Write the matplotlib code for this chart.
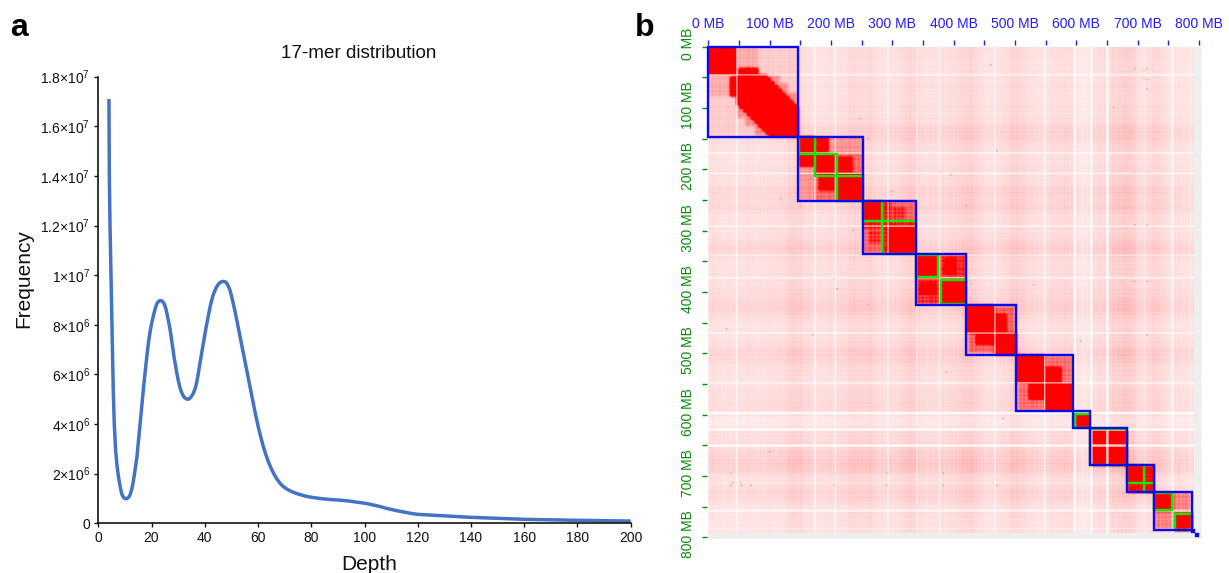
import numpy as np
import matplotlib
matplotlib.use("Agg")
import matplotlib.pyplot as plt
from matplotlib.colors import LinearSegmentedColormap
from matplotlib.patches import Rectangle
from matplotlib.transforms import ScaledTranslation

plt.rcParams['font.family'] = ['Liberation Sans', 'DejaVu Sans']
plt.rcParams['mathtext.fontset'] = 'custom'
plt.rcParams['mathtext.rm'] = 'Liberation Sans'
plt.rcParams['mathtext.default'] = 'regular'

# ---------- panel a data ----------
depth = [4.0, 4.15, 4.4, 4.65, 4.9, 5.15, 5.4, 5.65, 6, 6.5, 7, 7.5, 8, 8.5, 9, 9.5, 10, 10.5, 11, 11.5, 12, 12.5, 13,
         13.5, 14, 14.5, 15, 15.5, 16, 16.5, 17, 17.5, 18, 18.5, 19, 19.5, 20, 20.5, 21, 21.5, 22, 22.5, 23, 23.5,
         24, 24.5, 25, 25.5, 26, 26.5, 27, 27.5, 28, 28.5, 29, 29.5, 30, 30.5, 31, 31.5, 32, 32.5, 33, 33.5, 34,
         34.5, 35, 35.5, 36, 36.5, 37, 37.5, 38, 38.5, 39, 39.5, 40, 40.5, 41, 41.5, 42, 42.5, 43, 43.5, 44, 44.5,
         45, 45.5, 46, 46.5, 47, 47.5, 48, 48.5, 49, 49.5, 50, 50.5, 51, 51.5, 52, 53, 54, 55, 56, 57, 58, 59, 60,
         61, 62, 63, 64, 65, 66, 67, 68, 69, 70, 71, 72, 74, 76, 78, 80, 82, 84, 86, 88, 90, 92, 94, 96, 98, 100,
         102, 104, 106, 108, 110, 112, 114, 116, 118, 120, 125, 130, 135, 140, 150, 160, 170, 180, 190, 200]
freq_m = [17.1, 14.0, 12.0, 10.6, 9.3, 7.92, 6.55, 5.24, 4.0, 2.95, 2.35, 1.93, 1.6, 1.33, 1.13, 1.04, 1.0, .99, 1.01,
          1.06, 1.17, 1.34, 1.6, 1.93, 2.3, 2.66, 3.2, 3.78, 4.35, 4.92, 5.48, 6.0, 6.5, 6.98, 7.4, 7.75, 8.04, 8.28,
          8.5, 8.7, 8.85, 8.93, 8.97, 8.98, 8.95, 8.89, 8.78, 8.6, 8.35, 8.08, 7.79, 7.43, 7.05, 6.67, 6.35, 6.05,
          5.78, 5.54, 5.36, 5.22, 5.12, 5.06, 5.02, 5.0, 5.01, 5.05, 5.12, 5.2, 5.32, 5.47, 5.7, 6.0, 6.33, 6.65,
          6.97, 7.28, 7.6, 7.9, 8.18, 8.46, 8.73, 8.95, 9.15, 9.3, 9.43, 9.54, 9.62, 9.68, 9.72, 9.74, 9.75, 9.74,
          9.71, 9.63, 9.52, 9.38, 9.18, 8.95, 8.72, 8.47, 8.2, 7.65, 7.12, 6.58, 6.04, 5.5, 4.95, 4.42, 3.93, 3.49,
          3.09, 2.75, 2.45, 2.2, 1.98, 1.8, 1.65, 1.53, 1.44, 1.37, 1.31, 1.22, 1.15, 1.09, 1.05, 1.02, .99, .97,
          .95, .94, .92, .9, .87, .84, .81, .77, .72, .67, .61, .56, .51, .47, .43, .39, .36, .33, .3, .27, .24,
          .2, .16, .14, .12, .105, .09]
x_ticks = list(range(0, 201, 20))
y_ticks = [0, 2e6, 4e6, 6e6, 8e6, 1e7, 1.2e7, 1.4e7, 1.6e7, 1.8e7]
y_tick_labels = ['0', '2×10$^{6}$', '4×10$^{6}$', '6×10$^{6}$', '8×10$^{6}$', '1×10$^{7}$',
                 '1.2×10$^{7}$', '1.4×10$^{7}$', '1.6×10$^{7}$', '1.8×10$^{7}$']

# ---------- panel b data (MB) ----------
chrom_bounds = [(0, 146.7), (146.7, 252), (252, 338.4), (338.4, 420.5), (420.5, 502.4), (502.4, 594.5),
                (594.5, 622), (622, 682.4), (682.4, 726.5), (726.5, 788.5), (788.5, 791), (795, 797.5)]
scaffold_bounds = [(147.5, 174.5), (174.5, 210.5), (210.5, 252), (252, 283.5), (283.5, 338),
                   (339, 375), (380, 420), (598, 622), (622.5, 682), (682.5, 711), (711, 726),
                   (727, 756), (761, 788)]
# background contact level along the genome, one value each 12.5 MB
profile = [.9, .85, .8, .75, .8, .85, .8, .8, .85, .85, .95, 1.2, 1.2, .9, .85, .85, .9, .9, 1.0, 1.2, 1.1, 1.2, .9,
           .9, .85, 1.0, 1.3, 1.2, .9, .9, .9, .95, 1.0, 1.2, 1.35, 1.1, .85, .8, .9, 1.05, 1.3, 1.15, .9, .85, .85,
           .95, 1.0, 1.1, .75, .55, .9, 1.0, 1.05, 1.25, 1.5, 1.5, .9, .95, 1.15, 1.1, .75, .85, .8, .8, .7]
ripple = [1.14, .86, 1.2, .82, 1.06, .88, 1.17, .84, 1.0, .9, 1.12]
# (centre MB, half width MB, fraction removed)
stripes = [(47, 1.2, .8), (174, 1.2, .8), (207, 1.2, .85), (293, 1.2, .8), (340, .8, .5), (377, 1.3, .85),
           (467, 1.2, .8), (548, 1.3, .85), (597, 1.6, .85), (624, 1.5, .85), (650, 1.5, .85), (711, .8, .4),
           (756, 2, .6), (785, .8, .4)]
# enriched contact rectangles (x0, x1, y0, y1, level), mirrored about the diagonal
contact_boxes = [
    # chromosome 1
    (0, 146.7, 0, 146.7, .2), (0, 45, 50, 82, .33), (47, 117, 47, 117, .45), (60, 130, 60, 130, .45),
    (76, 146.7, 76, 146.7, .45), (36, 46, 50, 82, 1.5), (0, 47, 0, 47, 1.5),
    (46, 96, 46, 96, 1.5), (52, 102, 52, 102, 1.5), (58, 108, 58, 108, 1.5), (64, 114, 64, 114, 1.5),
    (70, 120, 70, 120, 1.5), (76, 126, 76, 126, 1.5), (82, 132, 82, 132, 1.5), (88, 138, 88, 138, 1.5),
    (94, 144, 94, 144, 1.5), (100, 148, 100, 148, 1.5),
    # chromosome 2
    (147, 252, 147, 252, .32), (175, 252, 147, 175, .42), (175, 208, 208, 252, .6),
    (147, 175, 147, 175, 1.5), (175, 209, 175, 209, 1.5), (208, 252, 208, 252, 1.5),
    (177, 196, 149, 172, 1.4), (210, 234, 181, 205, 1.3), (180, 206, 210, 236, 1.0),
    # chromosome 3
    (252, 338, 252, 338, .42), (252, 283, 296, 338, .6), (252, 338, 284, 297, .95),
    (252, 283, 252, 283, 1.5), (295, 338, 295, 338, 1.5), (262, 282, 300, 322, .85),
    # chromosome 4
    (339, 420, 339, 420, .68), (339, 375, 381, 420, .85), (345, 372, 384, 404, 1.2),
    (339, 376, 339, 376, 1.5), (380, 420, 380, 420, 1.5),
    # chromosome 5
    (420.5, 502, 420.5, 502, .42), (468, 497, 425, 464, .62), (425, 464, 468, 497, .62),
    (466, 484, 436, 468, 1.4), (436, 468, 466, 486, 1.4), (421, 467, 421, 467, 1.5), (466, 503, 466, 503, 1.5),
    # chromosome 6
    (502.5, 594, 502.5, 594, .42), (552, 592, 505, 545, .58), (505, 545, 552, 592, .58),
    (548, 575, 522, 550, 1.4), (522, 550, 548, 575, 1.4),
    (502, 549, 502, 549, 1.5), (548, 595, 548, 595, 1.5),
    # small chromosomes
    (596, 622, 596, 622, .6), (600, 623, 600, 623, 1.5),
    (622, 683, 622, 683, 1.4),
    (683, 727, 683, 727, 1.05), (682, 711, 682, 711, 1.5), (711, 727, 711, 727, 1.5),
    (727, 788, 727, 788, .5), (726, 757, 726, 757, 1.5), (760, 789, 760, 789, 1.5),
]
# isolated dark specks (x, y)
specks = [(37, 715), (55, 715), (70, 715), (206, 715), (291, 715), (383, 715), (470, 715), (710, 40), (710, 53),
          (37, 695), (206, 695), (291, 695), (383, 695), (150, 260), (205, 378), (260, 420), (395, 210),
          (118, 248), (236, 300), (530, 388), (505, 540), (606, 480), (340, 440), (660, 100), (170, 470), (30, 460)]

# ---------- build the contact map ----------
n = 804
centres = np.arange(n) + 0.5
p = np.interp(centres, np.arange(len(profile)) * 12.5, profile)
M = 0.155 * np.outer(p, p) ** 0.85
for x0, x1, y0, y1, v in contact_boxes:
    for a0, a1, b0, b1 in ((x0, x1, y0, y1), (y0, y1, x0, x1)):
        i0, i1, j0, j1 = int(b0), int(b1), int(a0), int(a1)
        M[i0:i1, j0:j1] = np.maximum(M[i0:i1, j0:j1], v)
kernel = np.array([1, 2, 3, 2, 1]) / 9
for _ in range(2):
    M = np.apply_along_axis(lambda r: np.convolve(r, kernel, 'same'), 0, M)
    M = np.apply_along_axis(lambda r: np.convolve(r, kernel, 'same'), 1, M)
tex = np.array([ripple[(i // 3) % len(ripple)] for i in range(n)])
M = M * np.outer(tex, tex) ** 0.5
for sx, sy in specks:
    for a, b in ((sx, sy), (sy, sx)):
        M[b - 1:b + 1, a - 1:a + 1] = np.maximum(M[b - 1:b + 1, a - 1:a + 1], .55)
for c, hw, s in stripes:
    mask = np.abs(centres - c) <= hw
    M[mask, :] *= 1 - s
    M[:, mask] *= 1 - s

# ---------- figure ----------
W, H = 1229, 573
fig = plt.figure(figsize=(W / 100, H / 100), dpi=100)


def axes_px(left, top, right, bottom):
    return fig.add_axes([left / W, 1 - bottom / H, (right - left) / W, (bottom - top) / H])


# panel a
ax = axes_px(98.3, 76.7, 630.7, 523.3)
ax.plot(depth, np.array(freq_m) * 1e6, color='#4472C4', lw=2.5, solid_capstyle='butt',
        solid_joinstyle='round', clip_on=False)
ax.set_xlim(0, 200)
ax.set_ylim(0, 1.8e7)
ax.set_xticks(x_ticks)
ax.set_yticks(y_ticks)
ax.set_yticklabels(y_tick_labels)
ax.tick_params(labelsize=10, length=3.2, width=1.0, pad=2.5, colors='#111111')
for s in ('top', 'right'):
    ax.spines[s].set_visible(False)
for s in ('left', 'bottom'):
    ax.spines[s].set_linewidth(1.1)
fig.text(358.5 / W, 1 - 53.5 / H, '17-mer distribution', fontsize=13.6, ha='center', va='center', color='#111111')
fig.text(369 / W, 1 - 564 / H, 'Depth', fontsize=15, ha='center', va='center', color='#111111')
fig.text(24 / W, 1 - 279 / H, 'Frequency', fontsize=15, ha='center', va='center', rotation=90, color='#111111')
fig.text(10 / W, 1 - 36 / H, 'a', fontsize=23, fontweight='bold', ha='left', va='baseline')
fig.text(635 / W, 1 - 36 / H, 'b', fontsize=23, fontweight='bold', ha='left', va='baseline')

# panel b
bx = axes_px(708.3, 46.7, 1201.5, 538.7)
cmap = LinearSegmentedColormap.from_list('wr', ['#ffffff', '#ff0000'])
bx.imshow(M, cmap=cmap, vmin=0, vmax=1, extent=(0, n, n, 0), aspect='auto',
          interpolation='antialiased', zorder=1)
bx.set_xlim(0, 804)
bx.set_ylim(802, 0)
bx.add_patch(Rectangle((792, 0), 12, 802, fc='#eeeeee', ec='none', zorder=2))
bx.add_patch(Rectangle((0, 792), 804, 10, fc='#eeeeee', ec='none', zorder=2))
for a, b in scaffold_bounds:
    bx.add_patch(Rectangle((a, a), b - a, b - a, fc='none', ec='#00ee00', lw=1.7, zorder=3))
for a, b in chrom_bounds:
    bx.add_patch(Rectangle((a, a), b - a, b - a, fc='none', ec='#0a0aee', lw=1.7, zorder=4, clip_on=False))

mb_ticks = list(range(0, 801, 50))
top_labels = [f'{t} MB' if t % 100 == 0 else '' for t in mb_ticks]
bx.spines['left'].set_position(('outward', 1.2))
bx.spines['top'].set_position(('outward', 1.2))
for s in bx.spines.values():
    s.set_visible(False)
bx.xaxis.tick_top()
bx.set_xticks(mb_ticks)
bx.set_xticklabels(top_labels)
bx.set_yticks(mb_ticks)
bx.set_yticklabels(top_labels, rotation=90, va='center')
bx.tick_params(axis='x', colors='#1f1fff', labelsize=10, length=3.4, width=1.0, pad=6.5)
bx.tick_params(axis='y', colors='#0a8a0a', labelsize=10, length=3.4, width=1.0, pad=5)
off = ScaledTranslation(0, 3 / 100, fig.dpi_scale_trans)
for lab in bx.get_yticklabels():
    lab.set_transform(lab.get_transform() + off)

fig.savefig('out.png', dpi=100)
